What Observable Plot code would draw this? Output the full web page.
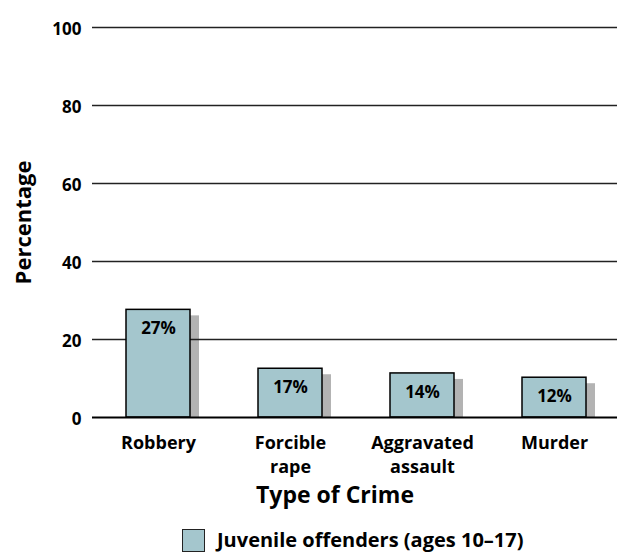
<!DOCTYPE html>
<html>
<head>
<meta charset="utf-8">
<script src="https://cdn.jsdelivr.net/npm/d3@7"></script>
<script src="https://cdn.jsdelivr.net/npm/@observablehq/plot@0.6"></script>
<style>
  html, body { margin: 0; padding: 0; background: #fff; }
  #chart svg { display: block; }
  .legend { display: flex; align-items: center; margin: 4px 0 0 182px; font-family: "Open Sans", sans-serif; font-weight: bold; font-size: 20px; line-height: 24px; color: #000; height: 24px; }
  .legend .sw { width: 21px; height: 21px; background: #a4c6cd; border: 1px solid #222; margin-right: 12px; flex: none; }
</style>
</head>
<body>
<div id="chart"></div>
<div class="legend"><span class="sw"></span><span>Juvenile offenders (ages 10–17)</span></div>
<script>
const categories = ["Robbery", "Forcible rape", "Aggravated assault", "Murder"];
const tickLabels = ["Robbery", "Forcible\nrape", "Aggravated\nassault", "Murder"];
const barValues = [27.6, 12.5, 11.3, 10.2];
const barLabels = ["27%", "17%", "14%", "12%"];
const yTicks = [0, 20, 40, 60, 80, 100];
const seriesName = "Juvenile offenders (ages 10–17)";

const data = categories.map((c, i) => ({cat: c, v: barValues[i], label: barLabels[i]}));

const chart = Plot.plot({
  width: 617,
  height: 524,
  marginTop: 27,
  marginBottom: 107,
  marginLeft: 92,
  marginRight: 0,
  style: {fontFamily: "'Open Sans', sans-serif", fontWeight: "bold", color: "#000", background: "#fff"},
  x: {domain: categories, range: [125, 587], paddingInner: 0.518, paddingOuter: 0, label: null},
  y: {domain: [0, 100], ticks: yTicks, label: null},
  marks: [
    Plot.barY(data, {x: "cat", y: "v", fill: "#b3b3b3", dx: 9, insetTop: 6}),
    Plot.ruleY(yTicks.filter(d => d > 0), {stroke: "#222", strokeWidth: 1.5}),
    Plot.barY(data, {x: "cat", y: "v", fill: "#a4c6cd", stroke: "#000", strokeWidth: 1.5}),
    Plot.ruleY([0], {stroke: "#000", strokeWidth: 2}),
    Plot.text(data, {x: "cat", y: "v", text: "label", dy: 19, fontSize: 17, fontWeight: "bold", fill: "#000"}),
    Plot.axisY({ticks: yTicks, tickSize: 0, tickPadding: 11, fontSize: 17, dy: 2, label: null}),
    Plot.axisX({tickSize: 0, tickPadding: 15, fontSize: 18, lineHeight: 1.3,
      tickFormat: d => tickLabels[categories.indexOf(d)], label: null}),
    Plot.text(["Type of Crime"], {frameAnchor: "bottom", dx: -20, dy: 78, lineAnchor: "middle", fontSize: 23, fontWeight: "bold", fill: "#000"}),
    Plot.text(["Percentage"], {frameAnchor: "left", textAnchor: "middle", dx: -69, rotate: -90, fontSize: 22, fontWeight: "bold", fill: "#000"})
  ]
});
document.getElementById("chart").append(chart);
</script>
</body>
</html>
